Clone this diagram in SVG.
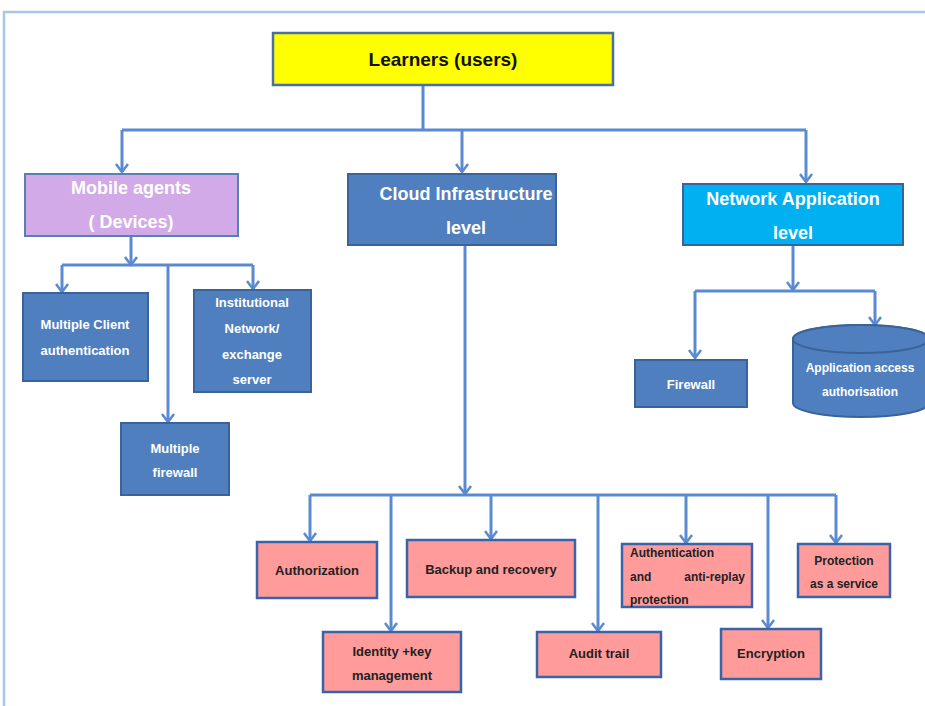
<svg xmlns="http://www.w3.org/2000/svg" width="925" height="706" viewBox="0 0 925 706">
<style>
  .frame{fill:none;stroke:#a9c6e8;stroke-width:2.5}
  .c{fill:none;stroke:#5a8ad0;stroke-width:3}
  .blue{fill:#4f7fbf;stroke:#3a6399;stroke-width:2}
  .pink{fill:#ff9b9b;stroke:#3a64a8;stroke-width:2.5}
  .wt{fill:#ffffff;font-family:"Liberation Sans",Arial,sans-serif;font-weight:bold;text-anchor:middle}
  .bt{fill:#222222;font-family:"Liberation Sans",Arial,sans-serif;font-weight:bold;text-anchor:middle}
  .bs{fill:#222222;font-family:"Liberation Sans",Arial,sans-serif;font-weight:bold;text-anchor:start}
  .be{fill:#222222;font-family:"Liberation Sans",Arial,sans-serif;font-weight:bold;text-anchor:end}
</style>
<defs>
  <marker id="arr" markerUnits="userSpaceOnUse" markerWidth="14" markerHeight="14" refX="7" refY="12" orient="0" viewBox="0 0 14 14">
    <path d="M1,4 L7,12 L13,4" fill="none" stroke="#5a8ad0" stroke-width="2.5"/>
  </marker>
</defs>
<rect width="925" height="706" fill="#ffffff"/>
<path class="frame" d="M4,706 V12 H925"/>

<g id="connectors">
  <path class="c" d="M423,85 V130"/>
  <path class="c" d="M122,130 H806"/>
  <path class="c" d="M122,130 V172" marker-end="url(#arr)"/>
  <path class="c" d="M462,130 V172" marker-end="url(#arr)"/>
  <path class="c" d="M806,130 V182" marker-end="url(#arr)"/>

  <path class="c" d="M131,236 V265" marker-end="url(#arr)"/>
  <path class="c" d="M62,265 H253"/>
  <path class="c" d="M62,265 V292" marker-end="url(#arr)"/>
  <path class="c" d="M253,265 V289" marker-end="url(#arr)"/>
  <path class="c" d="M168,265 V422" marker-end="url(#arr)"/>

  <path class="c" d="M793,245 V290" marker-end="url(#arr)"/>
  <path class="c" d="M695,291 H875"/>
  <path class="c" d="M695,291 V358" marker-end="url(#arr)"/>
  <path class="c" d="M875,291 V325" marker-end="url(#arr)"/>

  <path class="c" d="M465,245 V494" marker-end="url(#arr)"/>
  <path class="c" d="M310,495 H836"/>
  <path class="c" d="M310,495 V541" marker-end="url(#arr)"/>
  <path class="c" d="M391,495 V631" marker-end="url(#arr)"/>
  <path class="c" d="M491,495 V539" marker-end="url(#arr)"/>
  <path class="c" d="M598,495 V631" marker-end="url(#arr)"/>
  <path class="c" d="M686,495 V543" marker-end="url(#arr)"/>
  <path class="c" d="M768,495 V628" marker-end="url(#arr)"/>
  <path class="c" d="M836,495 V543" marker-end="url(#arr)"/>
</g>

<g id="learners">
  <rect x="273" y="33" width="340" height="52" fill="#ffff00" stroke="#4a6fa0" stroke-width="2.5"/>
  <text class="bt" x="443" y="66" font-size="19" style="fill:#111">Learners (users)</text>
</g>

<g id="mobile">
  <rect x="25" y="174" width="213" height="62" fill="#d2aae8" stroke="#5a7fb5" stroke-width="2"/>
  <text class="wt" x="131" y="194" font-size="18">Mobile agents</text>
  <text class="wt" x="131" y="228" font-size="18">( Devices)</text>
</g>

<g id="cloud">
  <rect class="blue" x="348" y="174" width="208" height="71"/>
  <text class="wt" x="466" y="200" font-size="18">Cloud Infrastructure</text>
  <text class="wt" x="466" y="234" font-size="18">level</text>
</g>

<g id="network">
  <rect x="683" y="184" width="220" height="61" fill="#00b0f0" stroke="#3a6399" stroke-width="2"/>
  <text class="wt" x="793" y="205" font-size="18">Network Application</text>
  <text class="wt" x="793" y="239" font-size="18">level</text>
</g>

<g id="multi-client">
  <rect class="blue" x="23" y="293" width="125" height="88"/>
  <text class="wt" x="85" y="329" font-size="13">Multiple Client</text>
  <text class="wt" x="85" y="355" font-size="13">authentication</text>
</g>

<g id="institutional">
  <rect class="blue" x="194" y="290" width="117" height="102"/>
  <text class="wt" x="252" y="307" font-size="13">Institutional</text>
  <text class="wt" x="252" y="333" font-size="13">Network/</text>
  <text class="wt" x="252" y="359" font-size="13">exchange</text>
  <text class="wt" x="252" y="384" font-size="13">server</text>
</g>

<g id="multi-firewall">
  <rect class="blue" x="121" y="423" width="108" height="72"/>
  <text class="wt" x="175" y="453" font-size="13">Multiple</text>
  <text class="wt" x="175" y="477" font-size="13">firewall</text>
</g>

<g id="firewall">
  <rect class="blue" x="635" y="360" width="112" height="47"/>
  <text class="wt" x="691" y="389" font-size="13">Firewall</text>
</g>

<g id="app-access">
  <path class="blue" d="M793,339 V403 A68,14 0 0 0 929,403 V339 A68,14 0 0 0 793,339 Z"/>
  <ellipse cx="861" cy="339" rx="68" ry="14" fill="#4f7fbf" stroke="#3a6399" stroke-width="2"/>
  <text class="wt" x="860" y="372" font-size="12">Application access</text>
  <text class="wt" x="860" y="396" font-size="12">authorisation</text>
</g>

<g id="authorization">
  <rect class="pink" x="257" y="542" width="120" height="56"/>
  <text class="bt" x="317" y="575" font-size="13">Authorization</text>
</g>

<g id="backup">
  <rect class="pink" x="407" y="540" width="168" height="57"/>
  <text class="bt" x="491" y="574" font-size="13">Backup  and recovery</text>
</g>

<g id="authentication">
  <rect class="pink" x="622" y="544" width="130" height="63"/>
  <text class="bs" x="630" y="557" font-size="12">Authentication</text>
  <text class="bs" x="630" y="581" font-size="12">and</text>
  <text class="be" x="745" y="581" font-size="12">anti-replay</text>
  <text class="bs" x="630" y="604" font-size="12">protection</text>
</g>

<g id="protection">
  <rect class="pink" x="798" y="544" width="92" height="53"/>
  <text class="bt" x="844" y="565" font-size="12">Protection</text>
  <text class="bt" x="844" y="588" font-size="12">as a service</text>
</g>

<g id="identity">
  <rect class="pink" x="323" y="632" width="138" height="60"/>
  <text class="bt" x="392" y="656" font-size="13">Identity +key</text>
  <text class="bt" x="392" y="680" font-size="13">management</text>
</g>

<g id="audit">
  <rect class="pink" x="537" y="632" width="124" height="45"/>
  <text class="bt" x="599" y="658" font-size="13">Audit trail</text>
</g>

<g id="encryption">
  <rect class="pink" x="721" y="629" width="100" height="50"/>
  <text class="bt" x="771" y="658" font-size="13">Encryption</text>
</g>
</svg>
